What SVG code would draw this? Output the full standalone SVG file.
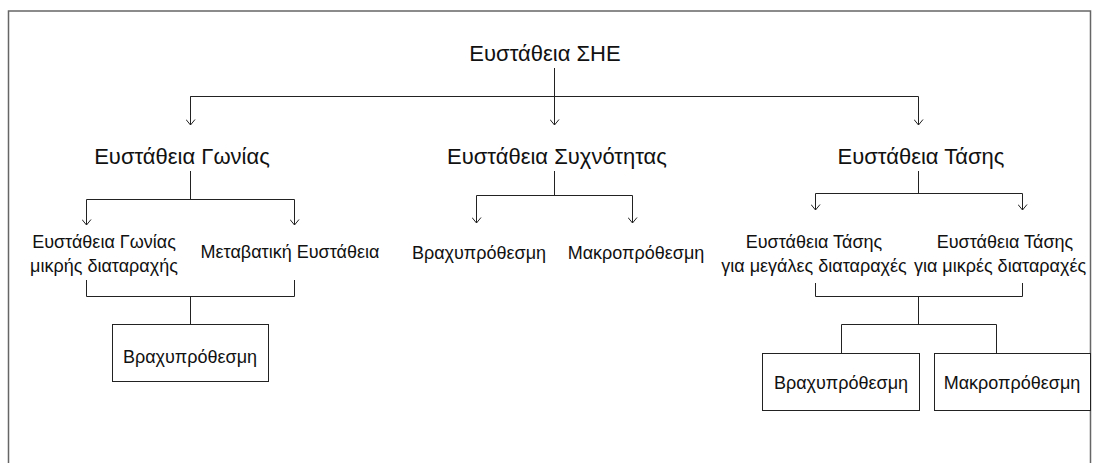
<svg xmlns="http://www.w3.org/2000/svg" width="1101" height="463" viewBox="0 0 1101 463">
<style>
text{font-family:"Liberation Sans",Arial,sans-serif;fill:#111;text-anchor:middle}
.l1{font-size:22px}
.l3{font-size:18px}
.c{fill:none;stroke:#222;stroke-width:1}
.box{fill:#fff;stroke:#222;stroke-width:1}
</style>
<defs>
<marker id="ah" viewBox="0 0 10 7" markerWidth="10" markerHeight="7" refX="5" refY="6" orient="0" markerUnits="userSpaceOnUse">
<path d="M0.5,0.5 L5,6 L9.5,0.5" fill="none" stroke="#222" stroke-width="1"/>
</marker>
</defs>
<rect width="1101" height="463" fill="#fff"/>
<path d="M8.5,463 V11 H1090.5 V463" fill="none" stroke="#666" stroke-width="1.5"/>
<g id="connectors">
<path class="c" d="M554.5,68 V96.5"/>
<path class="c" d="M190.5,125 V96.5 H918.5 V125" marker-end="url(#ah)"/>
<path class="c" d="M190.5,96.5 V125" marker-end="url(#ah)"/>
<path class="c" d="M554.5,96.5 V125" marker-end="url(#ah)"/>
<path class="c" d="M190.5,171 V199.5"/>
<path class="c" d="M86.5,199.5 H294.5"/>
<path class="c" d="M86.5,199.5 V225" marker-end="url(#ah)"/>
<path class="c" d="M294.5,199.5 V225" marker-end="url(#ah)"/>
<path class="c" d="M554.5,171 V195.5"/>
<path class="c" d="M476.5,195.5 H632.5"/>
<path class="c" d="M476.5,195.5 V223" marker-end="url(#ah)"/>
<path class="c" d="M632.5,195.5 V223" marker-end="url(#ah)"/>
<path class="c" d="M918.5,171 V193.5"/>
<path class="c" d="M815.5,193.5 H1022.5"/>
<path class="c" d="M815.5,193.5 V210" marker-end="url(#ah)"/>
<path class="c" d="M1022.5,193.5 V210" marker-end="url(#ah)"/>
<path class="c" d="M86.5,280 V296.5 H294.5 V280"/>
<path class="c" d="M190.5,296.5 V324"/>
<path class="c" d="M815.5,283 V296.5 H1022.5 V283"/>
<path class="c" d="M918.5,296.5 V324.5"/>
<path class="c" d="M841.5,353 V324.5 H996.5 V353"/>
</g>
<g id="n-she"><text class="l1" x="545" y="61">Ευστάθεια ΣΗΕ</text></g>
<g id="n-gonia"><text class="l1" x="182" y="164">Ευστάθεια Γωνίας</text></g>
<g id="n-syxn"><text class="l1" x="557" y="164">Ευστάθεια Συχνότητας</text></g>
<g id="n-tasi"><text class="l1" x="921" y="164">Ευστάθεια Τάσης</text></g>
<g id="n-gonia-mikri"><text class="l3" x="104" y="248">Ευστάθεια Γωνίας</text><text class="l3" x="104" y="272">μικρής διαταραχής</text></g>
<g id="n-metavatiki"><text class="l3" x="290" y="258">Μεταβατική Ευστάθεια</text></g>
<g id="n-gonia-vrax"><rect class="box" x="112.5" y="324.5" width="156" height="57"/><text class="l3" x="190" y="363">Βραχυπρόθεσμη</text></g>
<g id="n-syxn-vrax"><text class="l3" x="479" y="259">Βραχυπρόθεσμη</text></g>
<g id="n-syxn-makro"><text class="l3" x="636" y="259">Μακροπρόθεσμη</text></g>
<g id="n-tasi-megales"><text class="l3" x="814" y="248">Ευστάθεια Τάσης</text><text class="l3" x="814" y="272">για μεγάλες διαταραχές</text></g>
<g id="n-tasi-mikres"><text class="l3" x="1005" y="248">Ευστάθεια Τάσης</text><text class="l3" x="1000" y="272">για μικρές διαταραχές</text></g>
<g id="n-tasi-vrax"><rect class="box" x="762.5" y="353.5" width="157" height="57"/><text class="l3" x="841" y="389">Βραχυπρόθεσμη</text></g>
<g id="n-tasi-makro"><rect class="box" x="934.5" y="353.5" width="156" height="57"/><text class="l3" x="1012" y="389">Μακροπρόθεσμη</text></g>
</svg>
